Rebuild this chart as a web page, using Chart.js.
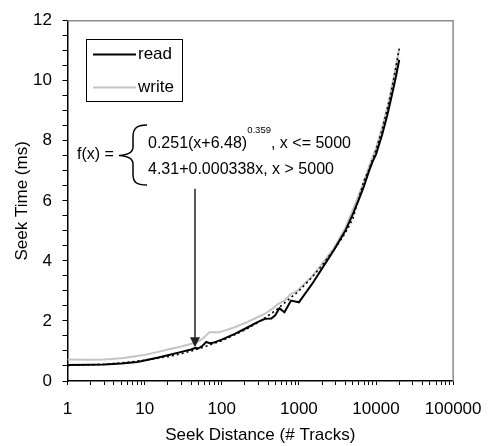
<!DOCTYPE html>
<html>
<head>
<meta charset="utf-8">
<script src="https://cdn.jsdelivr.net/npm/chart.js@4"></script>
<style>
  body { margin: 0; background: #fff; }
  #wrap { width: 496px; height: 446px; }
</style>
</head>
<body>
<div id="wrap"><canvas id="seekChart" width="496" height="446"></canvas></div>
<script>
// seek distance (# tracks) / seek time (ms)
const readDist = [1, 2, 3, 5, 8, 10, 15, 20, 30, 40, 45, 50, 55, 63, 70, 77, 100, 150, 200, 300, 365, 440, 490, 560, 650, 790, 1000, 1500, 2000, 2800, 4000, 5000, 6000, 7000, 8000, 9000, 10000, 12000, 14000, 16000, 18000, 20000];
const readTime = [0.53, 0.54, 0.55, 0.58, 0.63, 0.68, 0.78, 0.86, 0.97, 1.05, 1.10, 1.09, 1.15, 1.30, 1.26, 1.27, 1.38, 1.58, 1.74, 1.98, 2.07, 2.08, 2.18, 2.42, 2.29, 2.68, 2.62, 3.25, 3.75, 4.33, 5.0, 5.55, 6.05, 6.5, 6.95, 7.3, 7.55, 8.2, 8.85, 9.5, 10.1, 10.7];

const writeDist = [1, 2, 3, 5, 8, 10, 15, 20, 30, 40, 50, 57, 69, 93, 150, 200, 300, 365, 450, 540, 650, 790, 950, 1500, 2000, 2800, 4000, 5000, 6000, 7000, 8000, 9000, 10000, 12000, 14000, 16000, 18000, 20000];
const writeTime = [0.72, 0.71, 0.72, 0.76, 0.83, 0.87, 0.97, 1.05, 1.15, 1.24, 1.32, 1.42, 1.62, 1.62, 1.8, 1.93, 2.14, 2.24, 2.4, 2.57, 2.68, 2.9, 3.0, 3.5, 3.9, 4.4, 5.1, 5.7, 6.2, 6.65, 7.1, 7.45, 7.75, 8.45, 9.1, 9.8, 10.45, 11.05];

// fitted curve (dotted)
const fitDist = [1, 2, 3, 5, 10, 20, 30, 50, 100, 200, 300, 500, 1000, 1500, 2000, 3000, 4000, 5000, 6000, 7000, 8000, 10000, 12000, 15000, 17000, 20000];
const fitTime = [0.52, 0.54, 0.56, 0.60, 0.69, 0.81, 0.91, 1.07, 1.34, 1.70, 1.96, 2.35, 3.0, 3.47, 3.85, 4.45, 4.93, 5.4, 6.1, 6.68, 7.01, 7.69, 8.37, 9.38, 10.06, 11.07];

const xTickLabels = [1, 10, 100, 1000, 10000, 100000];
const yTickLabels = [0, 2, 4, 6, 8, 10, 12];

const FONT = "'Liberation Sans', Arial, sans-serif";
Chart.defaults.font.family = FONT;
Chart.defaults.font.size = 17;
Chart.defaults.color = '#000';

function toPoints(xs, ys) {
    return xs.map(function(x, i) { return { x: x, y: ys[i] }; });
}

// gray frame on top and right
const framePlugin = {
    id: 'frame',
    beforeDatasetsDraw(chart) {
        const a = chart.chartArea, ctx = chart.ctx;
        ctx.save();
        ctx.strokeStyle = '#8c8c8c';
        ctx.lineWidth = 1.5;
        ctx.beginPath();
        ctx.moveTo(a.left, a.top);
        ctx.lineTo(a.right, a.top);
        ctx.lineTo(a.right, a.bottom);
        ctx.stroke();
        ctx.restore();
    }
};

// legend box + formula annotation
const notesPlugin = {
    id: 'notes',
    afterDraw(chart) {
        const ctx = chart.ctx;
        const ds = chart.data.datasets;
        ctx.save();

        // legend
        ctx.strokeStyle = '#000';
        ctx.lineWidth = 1;
        ctx.strokeRect(86.5, 39.5, 96, 62);
        ctx.font = '17px ' + FONT;
        ctx.textBaseline = 'middle';
        ctx.textAlign = 'left';
        [[1, 54.5], [2, 87.5]].forEach(function(item) {
            const d = ds[item[0]];
            ctx.strokeStyle = d.borderColor;
            ctx.lineWidth = d.borderWidth;
            ctx.beginPath();
            ctx.moveTo(93, item[1]);
            ctx.lineTo(136, item[1]);
            ctx.stroke();
            ctx.fillStyle = '#000';
            ctx.fillText(d.label, 138, item[1]);
        });

        // f(x) = {
        ctx.font = '16px ' + FONT;
        ctx.fillText('f(x) =', 77, 155);
        ctx.strokeStyle = '#000';
        ctx.lineWidth = 1.5;
        ctx.beginPath();
        ctx.moveTo(147, 125);
        ctx.bezierCurveTo(136, 125, 133, 129, 133, 137);
        ctx.lineTo(133, 147);
        ctx.bezierCurveTo(133, 152, 128, 155, 119, 155.5);
        ctx.bezierCurveTo(128, 156, 133, 159, 133, 164);
        ctx.lineTo(133, 174);
        ctx.bezierCurveTo(133, 182, 136, 185, 147, 185);
        ctx.stroke();

        let x = 148;
        const part1 = '0.251(x+6.48)';
        ctx.fillText(part1, x, 144);
        x += ctx.measureText(part1).width;
        ctx.font = '9.5px ' + FONT;
        ctx.fillText('0.359', x, 130);
        x += ctx.measureText('0.359').width;
        ctx.font = '16px ' + FONT;
        ctx.fillText(', x <= 5000', x, 144);
        ctx.fillText('4.31+0.000338x, x > 5000', 148, 170);

        // arrow
        const sx = chart.scales.x, sy = chart.scales.y;
        const ax = sx.getPixelForValue(45);
        const y0 = sy.getPixelForValue(6.4);
        const y1 = sy.getPixelForValue(1.12);
        ctx.strokeStyle = '#222';
        ctx.fillStyle = '#222';
        ctx.lineWidth = 1.5;
        ctx.beginPath();
        ctx.moveTo(ax, y0);
        ctx.lineTo(ax, y1 - 9);
        ctx.stroke();
        ctx.beginPath();
        ctx.moveTo(ax - 5, y1 - 10);
        ctx.lineTo(ax + 5, y1 - 10);
        ctx.lineTo(ax, y1);
        ctx.closePath();
        ctx.fill();

        ctx.restore();
    }
};

new Chart(document.getElementById('seekChart'), {
    type: 'scatter',
    data: {
        datasets: [{
            label: 'fit',
            data: toPoints(fitDist, fitTime),
            showLine: true,
            borderColor: '#000',
            borderWidth: 1.6,
            borderDash: [2, 3],
            pointRadius: 0
        }, {
            label: 'read',
            data: toPoints(readDist, readTime),
            showLine: true,
            borderColor: '#000',
            borderWidth: 2,
            pointRadius: 0
        }, {
            label: 'write',
            data: toPoints(writeDist, writeTime),
            showLine: true,
            borderColor: '#c4c4c4',
            borderWidth: 2,
            pointRadius: 0
        }]
    },
    options: {
        responsive: false,
        animation: false,
        events: [],
        layout: { padding: { left: 0, right: 33, top: 18, bottom: 0 } },
        plugins: {
            legend: { display: false },
            tooltip: { enabled: false }
        },
        scales: {
            x: {
                type: 'logarithmic',
                min: 1,
                max: 100000,
                afterFit: function(scale) { scale.height = 65; },
                afterBuildTicks: function(scale) {
                    const ticks = [];
                    for (let d = 1; d < 100000; d *= 10) {
                        for (let m = 1; m < 10; m++) ticks.push({ value: m * d });
                    }
                    ticks.push({ value: 100000 });
                    scale.ticks = ticks;
                },
                ticks: {
                    autoSkip: false,
                    maxRotation: 0,
                    padding: 14.5,
                    callback: function(value) {
                        return xTickLabels.indexOf(value) >= 0 ? String(value) : '';
                    }
                },
                grid: { drawOnChartArea: false, tickLength: 4, color: '#000', tickWidth: 1 },
                border: { color: '#000', width: 1.5 },
                title: {
                    display: true,
                    text: 'Seek Distance (# Tracks)',
                    padding: { top: 0, bottom: 0 }
                }
            },
            y: {
                min: 0,
                max: 12,
                afterFit: function(scale) { scale.width = 67.5; },
                ticks: {
                    stepSize: 0.5,
                    autoSkip: false,
                    padding: 10.5,
                    callback: function(value) {
                        return yTickLabels.indexOf(value) >= 0 ? String(value) : '';
                    }
                },
                grid: { drawOnChartArea: false, tickLength: 5, color: '#000', tickWidth: 1 },
                border: { color: '#000', width: 1.5 },
                title: {
                    display: true,
                    text: 'Seek Time (ms)',
                    padding: { top: 12.5, bottom: 0 }
                }
            }
        }
    },
    plugins: [framePlugin, notesPlugin]
});
</script>
</body>
</html>
